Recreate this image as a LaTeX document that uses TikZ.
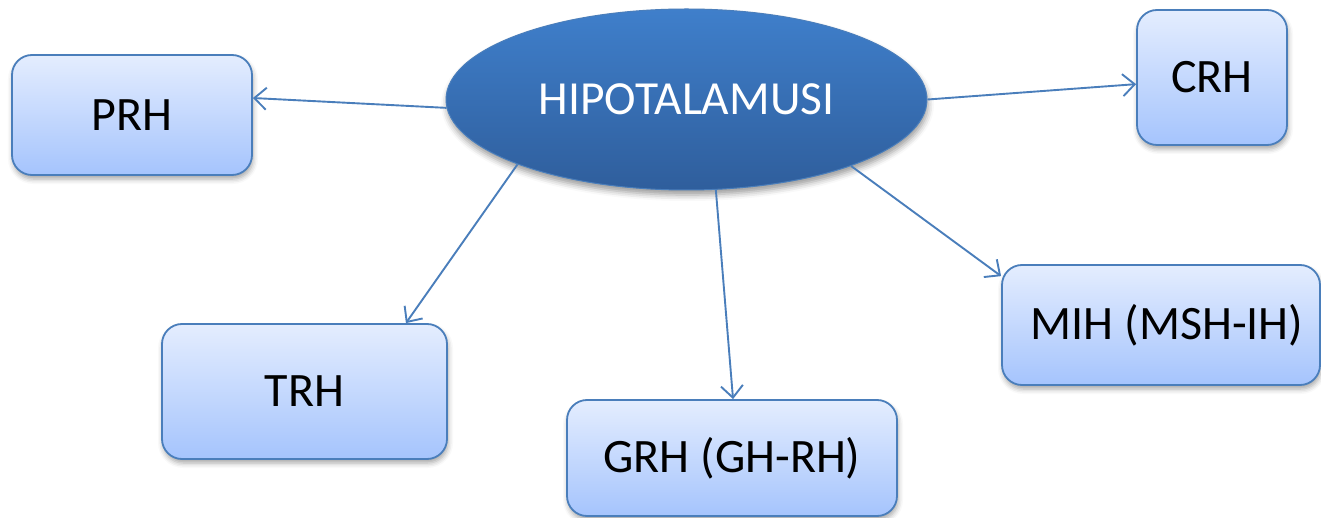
\documentclass[tikz,border=0pt]{standalone}
\usepackage{fontspec}
\setmainfont{Carlito}
\usetikzlibrary{arrows.meta,shapes.geometric,shadows.blur}
\definecolor{edge}{HTML}{4A7EBB}
\definecolor{boxtop}{HTML}{E4EDFE}
\definecolor{boxbot}{HTML}{A5C4FD}
\definecolor{elltop}{HTML}{3F7FCB}
\definecolor{ellbot}{HTML}{2F5E9C}
\begin{document}
\begin{tikzpicture}[x=1pt,y=-1pt,
  hbox/.style={draw=edge, line width=1.8pt, rounded corners=20pt,
    top color=boxtop, bottom color=boxbot, inner sep=0pt, text=black,
    font=\fontsize{48}{56}\selectfont,
    blur shadow={shadow xshift=1pt, shadow yshift=-4pt, shadow blur radius=5pt, shadow opacity=35}},
  hub/.style={ellipse, draw=edge, line width=1pt, top color=elltop, bottom color=ellbot,
    inner sep=0pt, text=white, font=\fontsize{47.5}{56}\selectfont,
    blur shadow={shadow xshift=1pt, shadow yshift=-5pt, shadow blur radius=6pt, shadow opacity=40}},
  conn/.style={draw=edge, line width=1.9pt, -{Straight Barb[length=12pt,width=22pt,line width=1.9pt]}}
]
\useasboundingbox (0,0) rectangle (1321,518);
\clip (0,0) rectangle (1321,518);
\node[hub, minimum width=481pt, minimum height=181pt] (hyp) at (686.5,99.5) {HIPOTALAMUSI};
\node[hbox, minimum width=240pt, minimum height=120pt] (prh) at (132,115) {PRH};
\node[hbox, minimum width=150pt, minimum height=135pt] (crh) at (1212,77.5) {CRH};
\node[hbox, minimum width=285pt, minimum height=135pt] (trh) at (304.5,391.5) {TRH};
\node[hbox, minimum width=330pt, minimum height=116pt] (grh) at (732,458) {GRH (GH-RH)};
\node[hbox, minimum width=318pt, minimum height=120pt] (mih) at (1161,325) {\hspace*{12pt}MIH (MSH-IH)};
\draw[conn] (hyp.182.5) -- (prh.8);
\draw[conn] (hyp.0) -- (crh.185);
\draw[conn] (hyp.201) -- (trh.34);
\draw[conn] (hyp.288.6) -- (grh.89);
\draw[conn] (hyp.338.8) -- (mih.163.9);
\end{tikzpicture}
\end{document}
